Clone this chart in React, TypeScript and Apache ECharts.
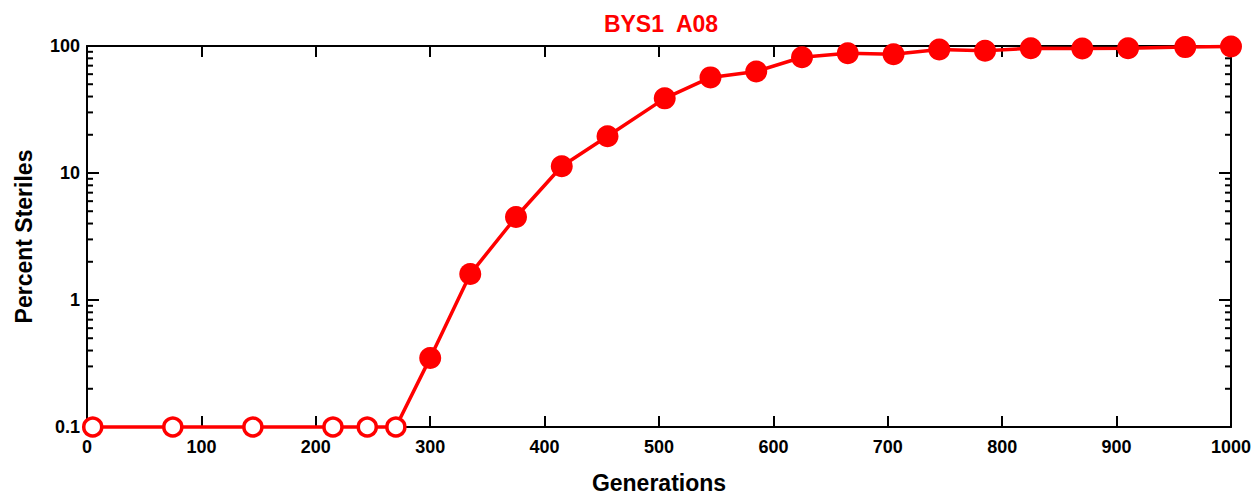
import React, { useEffect, useRef } from "react";
import * as echarts from "echarts";

const titleText = "BYS1  A08";
const xAxisName = "Generations";
const yAxisName = "Percent Steriles";

// generations where no steriles were found (plotted on the 0.1 baseline as open circles)
const zeroGenerations = [5, 75, 145, 215, 245, 270];
const baselineValue = 0.1;

// generations with measured percent steriles (filled circles)
const generations = [300, 335, 375, 415, 455, 505, 545, 585, 625, 665, 705, 745, 785, 825, 870, 910, 960, 1000];
const percentSteriles = [0.35, 1.6, 4.5, 11.3, 19.5, 38.7, 56.6, 63, 81.5, 87.7, 86, 94, 91.8, 96, 95.5, 96, 98, 99];

// minor log ticks between decades
const minorTickValues = [
  0.2, 0.3, 0.4, 0.5, 0.6, 0.7, 0.8, 0.9,
  2, 3, 4, 5, 6, 7, 8, 9,
  20, 30, 40, 50, 60, 70, 80, 90,
];

const RED = "#ff0000";
const FONT = "'Liberation Sans', Arial, sans-serif";

export default function App() {
  const ref = useRef<HTMLDivElement>(null);

  useEffect(() => {
    if (!ref.current) return;
    const chart = echarts.init(ref.current, undefined, { renderer: "svg" });

    const lineData: any[] = [];
    zeroGenerations.forEach((g) => {
      lineData.push({
        value: [g, baselineValue],
        symbolSize: 18,
        itemStyle: { color: "#ffffff", borderColor: RED, borderWidth: 3.5 },
      });
    });
    generations.forEach((g, i) => {
      lineData.push({
        value: [g, percentSteriles[i]],
        symbolSize: 22,
        itemStyle: { color: RED, borderWidth: 0 },
      });
    });

    const axisLine = { show: true, onZero: false, lineStyle: { color: "#000", width: 2 } };
    const tickStyle = { color: "#000", width: 2 };

    const option: any = {
      animation: false,
      backgroundColor: "#ffffff",
      title: {
        text: titleText,
        left: 656,
        top: 7,
        textAlign: "center",
        textStyle: { color: RED, fontSize: 23, fontWeight: "bold", fontFamily: FONT },
      },
      grid: { left: 87, right: 26, top: 46, bottom: 71, containLabel: false },
      xAxis: [
        {
          type: "value",
          min: 0,
          max: 1000,
          interval: 100,
          position: "bottom",
          name: xAxisName,
          nameLocation: "middle",
          nameGap: 44,
          nameTextStyle: { color: "#000", fontSize: 23, fontWeight: "bold", fontFamily: FONT },
          axisLine,
          axisTick: { show: true, inside: true, length: 11, lineStyle: tickStyle },
          axisLabel: {
            show: true,
            margin: 11,
            color: "#000",
            fontSize: 18,
            fontWeight: "bold",
            fontFamily: FONT,
            formatter: (v: number) => String(v),
          },
          splitLine: { show: false },
        },
        {
          type: "value",
          min: 0,
          max: 1000,
          interval: 100,
          position: "top",
          axisLine,
          axisTick: { show: true, inside: true, length: 11, lineStyle: tickStyle },
          axisLabel: { show: false },
          splitLine: { show: false },
        },
      ],
      yAxis: [
        {
          type: "log",
          logBase: 10,
          min: 0.1,
          max: 100,
          position: "left",
          name: yAxisName,
          nameLocation: "middle",
          nameRotate: 90,
          nameGap: 52,
          nameTextStyle: { color: "#000", fontSize: 23, fontWeight: "bold", fontFamily: FONT },
          axisLine,
          axisTick: { show: true, inside: true, length: 12, lineStyle: tickStyle },
          axisLabel: {
            show: true,
            margin: 7,
            color: "#000",
            fontSize: 18,
            fontWeight: "bold",
            fontFamily: FONT,
            formatter: (v: number) => String(Number(v.toPrecision(3))),
          },
          splitLine: { show: false },
        },
        {
          type: "log",
          logBase: 10,
          min: 0.1,
          max: 100,
          position: "right",
          axisLine,
          axisTick: { show: true, inside: true, length: 12, lineStyle: tickStyle },
          axisLabel: { show: false },
          splitLine: { show: false },
        },
      ],
      series: [
        {
          type: "custom",
          silent: true,
          clip: false,
          xAxisIndex: 0,
          yAxisIndex: 0,
          encode: { x: 0, y: 1 },
          data: minorTickValues.map((v) => [0, v]),
          renderItem: (params: any, api: any) => {
            const v = api.value(1);
            const l = api.coord([0, v]);
            const r = api.coord([1000, v]);
            return {
              type: "group",
              children: [
                {
                  type: "line",
                  shape: { x1: l[0], y1: l[1], x2: l[0] + 6, y2: l[1] },
                  style: { stroke: "#000", lineWidth: 2 },
                },
                {
                  type: "line",
                  shape: { x1: r[0], y1: r[1], x2: r[0] - 6, y2: r[1] },
                  style: { stroke: "#000", lineWidth: 2 },
                },
              ],
            };
          },
          z: 1,
        },
        {
          type: "line",
          xAxisIndex: 0,
          yAxisIndex: 0,
          clip: false,
          symbol: "circle",
          data: lineData,
          lineStyle: { color: RED, width: 3.5 },
          itemStyle: { color: RED },
          z: 3,
        },
      ],
    };

    chart.setOption(option);
    return () => chart.dispose();
  }, []);

  return (
    <div
      ref={ref}
      style={{ position: "absolute", left: 0, top: 0, width: 1257, height: 499 }}
    />
  );
}
